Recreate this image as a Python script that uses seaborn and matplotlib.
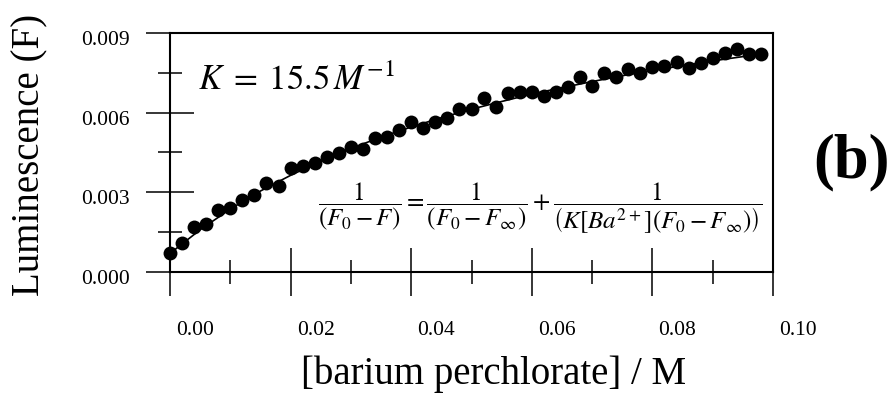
import matplotlib
matplotlib.use("Agg")
import matplotlib.pyplot as plt
import matplotlib.transforms as mtransforms
import seaborn as sns
import pandas as pd

# ---- data ----
conc = [0.000, 0.002, 0.004, 0.006, 0.008, 0.010, 0.012, 0.014, 0.016, 0.018,
        0.020, 0.022, 0.024, 0.026, 0.028, 0.030, 0.032, 0.034, 0.036, 0.038,
        0.040, 0.042, 0.044, 0.046, 0.048, 0.050, 0.052, 0.054, 0.056, 0.058,
        0.060, 0.062, 0.064, 0.066, 0.068, 0.070, 0.072, 0.074, 0.076, 0.078,
        0.080, 0.082, 0.084, 0.086, 0.088, 0.090, 0.092, 0.094, 0.096, 0.098]
lum = [0.00070, 0.00110, 0.00171, 0.00181, 0.00233, 0.00240, 0.00271, 0.00290, 0.00334, 0.00324,
       0.00391, 0.00399, 0.00409, 0.00434, 0.00449, 0.00472, 0.00462, 0.00504, 0.00510, 0.00535,
       0.00566, 0.00541, 0.00566, 0.00579, 0.00613, 0.00613, 0.00654, 0.00620, 0.00673, 0.00679,
       0.00679, 0.00663, 0.00679, 0.00695, 0.00736, 0.00700, 0.00751, 0.00736, 0.00763, 0.00751,
       0.00773, 0.00776, 0.00792, 0.00767, 0.00786, 0.00805, 0.00824, 0.00839, 0.00821, 0.00821]

fit_x = [0.000, 0.005, 0.010, 0.015, 0.020, 0.025, 0.030, 0.035, 0.040, 0.045, 0.050,
         0.055, 0.060, 0.065, 0.070, 0.075, 0.080, 0.085, 0.090, 0.095, 0.098]
fit_y = [0.00070, 0.00159, 0.00237, 0.00305, 0.00364, 0.00417, 0.00465, 0.00508, 0.00546, 0.00581, 0.00613,
         0.00642, 0.00670, 0.00694, 0.00717, 0.00739, 0.00759, 0.00777, 0.00795, 0.00811, 0.00820]

x_ticks = [0.00, 0.02, 0.04, 0.06, 0.08, 0.10]
x_ticklabels = ["0.00", "0.02", "0.04", "0.06", "0.08", "0.10"]
x_minor = [0.01, 0.03, 0.05, 0.07, 0.09]
y_ticks = [0.000, 0.003, 0.006, 0.009]
y_ticklabels = ["0.000", "0.003", "0.006", "0.009"]
y_minor = [0.0015, 0.0045, 0.0075]

df_pts = pd.DataFrame({"conc": conc, "lum": lum})
df_fit = pd.DataFrame({"conc": fit_x, "lum": fit_y})

# ---- style ----
sns.set_theme(style="ticks")
plt.rcParams["font.family"] = ["Liberation Serif", "DejaVu Serif"]
plt.rcParams["mathtext.fontset"] = "stix"
plt.rcParams["axes.edgecolor"] = "black"
plt.rcParams["xtick.color"] = "black"
plt.rcParams["ytick.color"] = "black"
plt.rcParams["text.color"] = "black"
plt.rcParams["axes.labelcolor"] = "black"

fig = plt.figure(figsize=(8.93, 3.95), dpi=100)
ax = fig.add_axes([0.1904, 0.3114, 0.6752, 0.6051])

sns.lineplot(data=df_fit, x="conc", y="lum", color="black", lw=1.2, ax=ax, zorder=2)
sns.scatterplot(data=df_pts, x="conc", y="lum", color="black", s=100, linewidth=0,
                ax=ax, zorder=3, clip_on=False)

ax.set_xlim(0, 0.10)
ax.set_ylim(0, 0.009)
ax.set_xticks(x_ticks)
ax.set_xticklabels(x_ticklabels)
ax.set_xticks(x_minor, minor=True)
ax.set_yticks(y_ticks)
ax.set_yticklabels(y_ticklabels)
ax.set_yticks(y_minor, minor=True)

for s in ax.spines.values():
    s.set_linewidth(1.5)
    s.set_color("black")

ax.tick_params(which="major", direction="inout", length=34.5, width=1.1, labelsize=15.5)
ax.tick_params(which="minor", direction="inout", length=17.5, width=1.1)
ax.tick_params(axis="x", which="major", pad=18)
ax.tick_params(axis="y", which="major", pad=12)

# tick labels are shifted in the reference
for lab in ax.get_xticklabels():
    lab.set_transform(lab.get_transform() + mtransforms.ScaledTranslation(0.25, 0, fig.dpi_scale_trans))
for lab in ax.get_yticklabels():
    lab.set_transform(lab.get_transform() + mtransforms.ScaledTranslation(0, -0.05, fig.dpi_scale_trans))

ax.set_xlabel("[barium perchlorate] / M", fontsize=28)
ax.xaxis.set_label_coords(0.536, -0.351)
ax.set_ylabel("Luminescence (F)", fontsize=28)
ax.yaxis.set_label_coords(-0.2023, 0.4895)

ax.text(0.0464, 0.7615, r"$K\;=\;15.5\,M^{-1}$", fontsize=25, transform=ax.transAxes,
        ha="left", va="baseline")
ax.text(0.6136, 0.268,
        r"$\dfrac{1}{(F_0-F)}=\dfrac{1}{(F_0-F_\infty)}+\dfrac{1}{\left(K\left[Ba^{2+}\right](F_0-F_\infty)\right)}$",
        fontsize=18, transform=ax.transAxes, ha="center", va="center")

fig.text(851 / 893, 1 - 162 / 395, "(b)", fontsize=45, fontweight="bold", ha="center", va="center")

fig.savefig("out.png", dpi=100)
